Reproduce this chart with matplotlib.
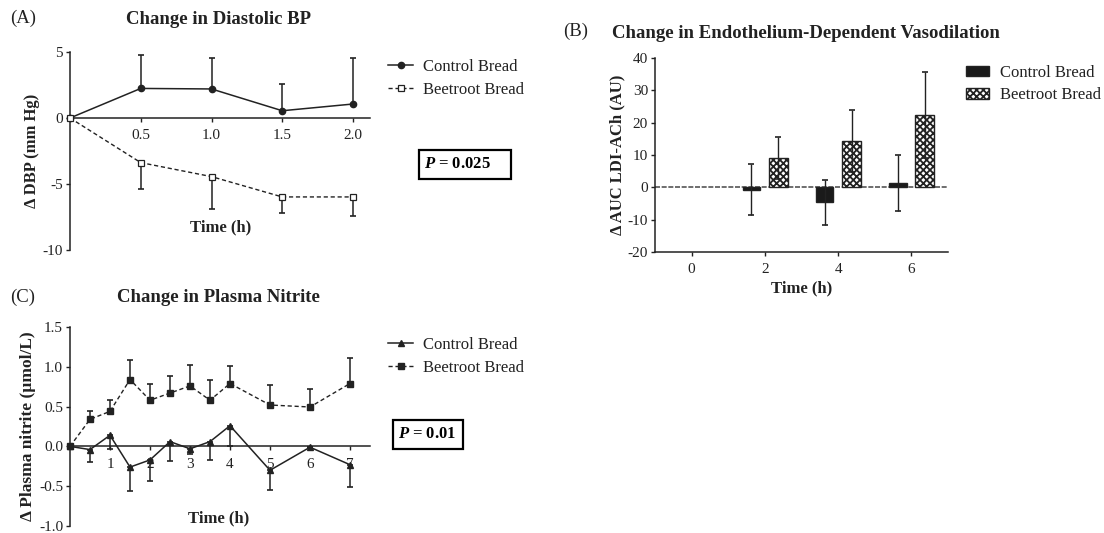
import matplotlib
matplotlib.use("Agg")
import matplotlib.pyplot as plt
from matplotlib.patches import Rectangle
import numpy as np


# Panel A - change in diastolic BP
dbp_time = [0, 0.5, 1.0, 1.5, 2.0]
dbp_control = [0, 2.24, 2.2, 0.55, 1.06]
dbp_control_err = [0, 2.53, 2.35, 2.0, 3.46]
dbp_beetroot = [0, -3.38, -4.44, -5.98, -5.98]
dbp_beetroot_err = [0, 1.97, 2.46, 1.22, 1.47]

# Panel B - endothelium-dependent vasodilation
fmd_time = [2, 4, 6]
fmd_control = [-0.7, -4.6, 1.35]
fmd_control_err = [8.0, 7.0, 8.6]
fmd_beetroot = [9.1, 14.2, 22.3]
fmd_beetroot_err = [6.5, 9.6, 13.3]

# Panel C - plasma nitrite
nit_time = [0, 0.5, 1, 1.5, 2, 2.5, 3, 3.5, 4, 5, 6, 7]
nit_control = [0, -0.04, 0.14, -0.26, -0.17, 0.06, -0.03, 0.06, 0.26, -0.3, -0.01, -0.23]
nit_control_err = [0, 0.16, 0.17, 0.3, 0.26, 0.24, 0.06, 0.23, 0.26, 0.25, 0.0, 0.28]
nit_beetroot = [0, 0.34, 0.44, 0.84, 0.58, 0.67, 0.76, 0.58, 0.79, 0.52, 0.495, 0.79]
nit_beetroot_err = [0, 0.1, 0.14, 0.24, 0.2, 0.21, 0.26, 0.25, 0.22, 0.25, 0.23, 0.32]

W, H = 1104, 533

plt.rcParams["font.family"] = ["Liberation Serif", "DejaVu Serif"]
plt.rcParams["mathtext.fontset"] = "custom"
plt.rcParams["mathtext.it"] = "Liberation Serif:italic:bold"
plt.rcParams["mathtext.rm"] = "Liberation Serif:bold"
plt.rcParams["axes.unicode_minus"] = False
plt.rcParams["hatch.linewidth"] = 1.3

TXT = "#222222"
TICK_FS = 11
LAB_FS = 12
TITLE_FS = 13.5


def pxAxes(fig, left, top, right, bottom):
	return fig.add_axes([left / W, 1 - bottom / H, (right - left) / W, (bottom - top) / H])


def figText(fig, x, y, s, **kw):
	fig.text(x / W, 1 - y / H, s, color=TXT, **kw)


def styleZeroAxis(ax):
	ax.spines["top"].set_visible(False)
	ax.spines["right"].set_visible(False)
	ax.spines["bottom"].set_position(("data", 0))
	for side in ("left", "bottom"):
		ax.spines[side].set_linewidth(1.1)
		ax.spines[side].set_color(TXT)
	ax.tick_params(axis="both", direction="out", length=3, width=1, labelsize=TICK_FS,
		colors=TXT, pad=2)
	ax.tick_params(axis="x", pad=5)


def oneSidedErr(ax, x, y, err, up, **kw):
	err = np.asarray(err)
	zeros = np.zeros_like(err)
	yerr = [zeros, err] if up else [err, zeros]
	ax.errorbar(x, y, yerr=yerr, fmt="none", ecolor=TXT, elinewidth=1.1, capsize=2.5,
		capthick=1.2, clip_on=False, **kw)


def pBox(fig, left, top, right, bottom, text_x, s):
	fig.patches.append(Rectangle((left / W, 1 - bottom / H), (right - left) / W,
		(bottom - top) / H, transform=fig.transFigure, fc="white", ec="black", lw=1.6))
	fig.text(text_x / W, 1 - (top + bottom) / 2 / H, s, fontsize=12, fontweight="bold",
		color="black", ha="left", va="center")


fig = plt.figure(figsize=(W / 100, H / 100), dpi=100)

# ---------------- Panel A ----------------
axA = pxAxes(fig, 70, 52, 370, 250)
styleZeroAxis(axA)
axA.set_xlim(0, 2.12)
axA.set_ylim(-10, 5)
axA.set_xticks([0.5, 1.0, 1.5, 2.0])
axA.set_xticklabels(["0.5", "1.0", "1.5", "2.0"])
axA.set_yticks([-10, -5, 0, 5])
axA.set_yticklabels(["-10", "-5", "0", "5"])
oneSidedErr(axA, dbp_time, dbp_control, dbp_control_err, up=True)
oneSidedErr(axA, dbp_time, dbp_beetroot, dbp_beetroot_err, up=False)
lA1, = axA.plot(dbp_time, dbp_control, color=TXT, lw=1.1, marker="o", ms=4.5, mfc=TXT,
	mec=TXT, clip_on=False, label="Control Bread", zorder=3)
lA2, = axA.plot(dbp_time, dbp_beetroot, color=TXT, lw=1.0, ls=(0, (3, 2)), marker="s",
	ms=4, mfc="white", mec=TXT, mew=0.9, clip_on=False, label="Beetroot Bread", zorder=3)
axA.set_ylabel("Δ DBP (mm Hg)", fontsize=LAB_FS, fontweight="bold", color=TXT, labelpad=2)
axA.legend(handles=[lA1, lA2], loc="upper left", bbox_to_anchor=(388 / W, 1 - 59 / H),
	bbox_transform=fig.transFigure, frameon=False, fontsize=12, handlelength=1.5,
	handletextpad=0.6, labelspacing=0.42, borderpad=0, borderaxespad=0, labelcolor=TXT)
figText(fig, 221, 227, "Time (h)", fontsize=LAB_FS, fontweight="bold", ha="center", va="center")
figText(fig, 219, 20, "Change in Diastolic BP", fontsize=TITLE_FS, fontweight="bold",
	ha="center", va="center")
figText(fig, 10, 18, "(A)", fontsize=TITLE_FS, ha="left", va="center")
pBox(fig, 419, 150, 511, 179, 424, r"$P$ = 0.025")

# ---------------- Panel B ----------------
axB = pxAxes(fig, 655, 58, 948, 252)
axB.spines["top"].set_visible(False)
axB.spines["right"].set_visible(False)
for side in ("left", "bottom"):
	axB.spines[side].set_linewidth(1.1)
	axB.spines[side].set_color(TXT)
axB.tick_params(axis="both", direction="out", length=3, width=1, labelsize=TICK_FS,
	colors=TXT, pad=2)
axB.tick_params(axis="x", pad=5)
axB.set_xlim(-1, 7)
axB.set_ylim(-20, 40)
axB.set_xticks([0, 2, 4, 6])
axB.set_yticks([-20, -10, 0, 10, 20, 30, 40])
axB.axhline(0, color="#555555", lw=1.2, ls=(0, (3, 1)), zorder=1)
offset = 0.37
xc = np.array(fmd_time) - offset
xb = np.array(fmd_time) + offset
barC = axB.bar(xc, fmd_control, width=0.48, color="#1a1a1a", edgecolor=TXT, lw=1,
	label="Control Bread", zorder=2)
barB = axB.bar(xb, fmd_beetroot, width=0.52, color="white", edgecolor=TXT, lw=1,
	hatch="xxxxx", label="Beetroot Bread", zorder=2)
axB.errorbar(xc, fmd_control, yerr=fmd_control_err, fmt="none", ecolor=TXT, elinewidth=1.0,
	capsize=2.5, capthick=1.2, zorder=3)
axB.errorbar(xb, fmd_beetroot, yerr=fmd_beetroot_err, fmt="none", ecolor=TXT, elinewidth=1.0,
	capsize=2.5, capthick=1.2, zorder=3)
axB.set_ylabel("Δ AUC LDI-ACh (AU)", fontsize=LAB_FS, fontweight="bold", color=TXT, labelpad=2)
axB.set_xlabel("Time (h)", fontsize=LAB_FS, fontweight="bold", color=TXT, labelpad=3)
axB.legend(handles=[barC, barB], loc="upper left", bbox_to_anchor=(966 / W, 1 - 65 / H),
	bbox_transform=fig.transFigure, frameon=False, fontsize=12, handlelength=1.4,
	handleheight=0.6, handletextpad=0.65, labelspacing=0.38, borderpad=0, borderaxespad=0,
	labelcolor=TXT)
figText(fig, 563, 31, "(B)", fontsize=TITLE_FS, ha="left", va="center")
figText(fig, 612, 33, "Change in Endothelium-Dependent Vasodilation", fontsize=TITLE_FS,
	fontweight="bold", ha="left", va="center")

# ---------------- Panel C ----------------
axC = pxAxes(fig, 70, 327, 370, 526)
styleZeroAxis(axC)
axC.set_xlim(0, 7.5)
axC.set_ylim(-1.0, 1.5)
axC.set_xticks([1, 2, 3, 4, 5, 6, 7])
axC.set_yticks([-1.0, -0.5, 0.0, 0.5, 1.0, 1.5])
axC.set_yticklabels(["-1.0", "-0.5", "0.0", "0.5", "1.0", "1.5"])
oneSidedErr(axC, nit_time, nit_control, nit_control_err, up=False)
oneSidedErr(axC, nit_time, nit_beetroot, nit_beetroot_err, up=True)
lC1, = axC.plot(nit_time, nit_control, color=TXT, lw=1.1, marker="^", ms=4, mfc=TXT,
	mec=TXT, clip_on=False, label="Control Bread", zorder=3)
lC2, = axC.plot(nit_time, nit_beetroot, color=TXT, lw=1.0, ls=(0, (3, 2)), marker="s",
	ms=4.5, mfc=TXT, mec=TXT, clip_on=False, label="Beetroot Bread", zorder=3)
axC.set_ylabel("Δ Plasma nitrite (µmol/L)", fontsize=12.5, fontweight="bold", color=TXT,
	labelpad=2)
axC.legend(handles=[lC1, lC2], loc="upper left", bbox_to_anchor=(388 / W, 1 - 337 / H),
	bbox_transform=fig.transFigure, frameon=False, fontsize=12, handlelength=1.5,
	handletextpad=0.6, labelspacing=0.42, borderpad=0, borderaxespad=0, labelcolor=TXT)
figText(fig, 219, 518, "Time (h)", fontsize=LAB_FS, fontweight="bold", ha="center", va="center")
figText(fig, 218, 298, "Change in Plasma Nitrite", fontsize=TITLE_FS, fontweight="bold",
	ha="center", va="center")
figText(fig, 10, 297, "(C)", fontsize=TITLE_FS, ha="left", va="center")
pBox(fig, 393, 420, 463, 449, 398, r"$P$ = 0.01")

fig.savefig("out.png", dpi=100)
